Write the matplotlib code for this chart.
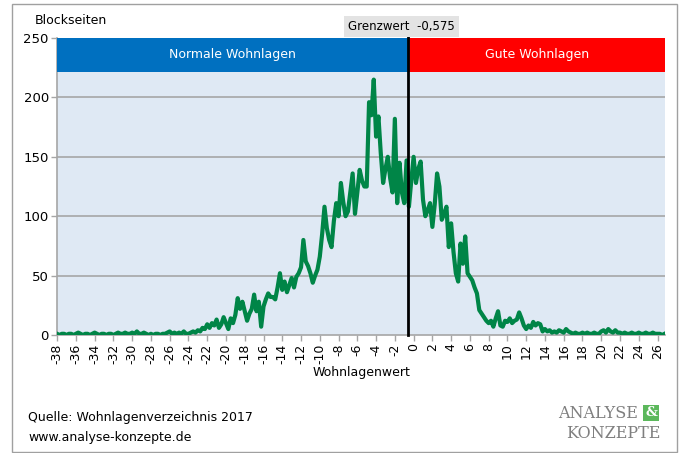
import numpy as np
import matplotlib
matplotlib.use("Agg")
import matplotlib.pyplot as plt
from matplotlib.patches import Rectangle

# Wohnlagenwert in 0.25 steps, one row per integer value
x_start, x_step = -38, 0.25
blockseiten = [
    1, 0, 1, 1,     # -38
    0, 1, 1, 0,     # -37
    1, 2, 1, 0,     # -36
    1, 1, 0, 1,     # -35
    2, 1, 0, 1,     # -34
    1, 0, 1, 1,     # -33
    0, 1, 2, 1,     # -32
    1, 2, 1, 1,     # -31
    2, 1, 3, 1,     # -30
    1, 2, 1, 0,     # -29
    1, 0, 1, 1,     # -28
    0, 1, 1, 2,     # -27
    3, 1, 2, 1,     # -26
    2, 1, 3, 1,     # -25
    1, 2, 3, 2,     # -24
    4, 3, 6, 5,     # -23
    9, 6, 10, 8,    # -22
    13, 6, 9, 15,   # -21
    10, 5, 14, 10,  # -20
    17, 31, 22, 28,  # -19
    20, 12, 18, 22,  # -18
    34, 20, 28, 7,   # -17
    24, 30, 35, 32,  # -16
    32, 30, 40, 52,  # -15
    38, 45, 36, 42,  # -14
    48, 40, 49, 52,  # -13
    57, 80, 62, 58,  # -12
    52, 44, 50, 55,  # -11
    66, 85, 108, 90,   # -10
    80, 74, 96, 111,   # -9
    100, 128, 112, 100,  # -8
    104, 120, 136, 102,  # -7
    120, 139, 130, 125,  # -6
    125, 196, 185, 215,  # -5
    167, 184, 153, 128,  # -4
    140, 150, 132, 120,  # -3
    182, 111, 145, 120,  # -2
    111, 147, 108, 130,  # -1
    150, 128, 140, 146,  # 0
    114, 100, 105, 111,  # 1
    91, 110, 136, 125,   # 2
    97, 102, 108, 74,    # 3
    94, 70, 52, 45,      # 4
    77, 60, 83, 52,      # 5
    49, 46, 40, 35,      # 6
    21, 18, 15, 12,      # 7
    10, 12, 7, 14,       # 8
    20, 8, 7, 12,        # 9
    11, 14, 10, 12,      # 10
    13, 19, 14, 8,       # 11
    5, 8, 6, 11,         # 12
    8, 10, 9, 3,         # 13
    5, 3, 4, 2,          # 14
    3, 2, 4, 3,          # 15
    2, 5, 3, 2,          # 16
    1, 2, 1, 1,          # 17
    2, 1, 2, 1,          # 18
    1, 2, 1, 1,          # 19
    3, 4, 2, 5,          # 20
    3, 2, 4, 2,          # 21
    2, 1, 2, 1,          # 22
    1, 2, 1, 1,          # 23
    2, 1, 1, 2,          # 24
    1, 1, 2, 1,          # 25
    1, 1, 0, 1,          # 26
]
wohnlagenwert = x_start + x_step * np.arange(len(blockseiten))

grenzwert = -0.575
x_ticks = list(range(-38, 27, 2))
y_ticks = [0, 50, 100, 150, 200, 250]
band_labels = ["Normale Wohnlagen", "Gute Wohnlagen"]
source_lines = ["Quelle: Wohnlagenverzeichnis 2017", "www.analyse-konzepte.de"]

fig = plt.figure(figsize=(6.8, 4.53), dpi=100)
ax = fig.add_axes([0.084, 0.2605, 0.894, 0.6555])
ax.set_facecolor("#DFE9F4")

x_min, x_max = -38, 26.8
y_min, y_max = 0, 250
band_low = 221.5

# gridlines
for y in y_ticks[1:-1]:
    ax.axhline(y, color="#A6A6A6", lw=1.2, zorder=1)

ax.plot(wohnlagenwert, blockseiten, color="#008547", lw=3, zorder=3,
        solid_joinstyle="round")

# coloured bands
ax.add_patch(Rectangle((x_min, band_low), grenzwert - x_min, y_max - band_low,
                       color="#0070C0", zorder=4, lw=0))
ax.add_patch(Rectangle((grenzwert, band_low), x_max - grenzwert, y_max - band_low,
                       color="#FF0000", zorder=4, lw=0))
ax.text((x_min + grenzwert) / 2, (band_low + y_max) / 2, band_labels[0],
        color="white", ha="center", va="center", fontsize=9, zorder=5)
ax.text((grenzwert + x_max) / 2, (band_low + y_max) / 2, band_labels[1],
        color="white", ha="center", va="center", fontsize=9, zorder=5)

# threshold line and label
ax.plot([grenzwert, grenzwert], [0, 258], color="black", lw=2, zorder=6,
        clip_on=False)
ax.text(-7.0, 259.5, "Grenzwert  -0,575", fontsize=8.5, ha="left", va="center",
        zorder=7, clip_on=False,
        bbox=dict(boxstyle="square,pad=0.35", fc="#E3E3E3", ec="none"))

ax.set_xlim(x_min, x_max)
ax.set_ylim(y_min, y_max)
ax.set_xticks(x_ticks)
ax.set_xticklabels([str(t) for t in x_ticks], rotation=90, fontsize=9)
ax.set_yticks(y_ticks)
ax.set_yticklabels([str(t) for t in y_ticks], fontsize=9.5)
ax.tick_params(axis="both", color="#A6A6A6", length=4, width=1, pad=2)
for side in ["top", "right"]:
    ax.spines[side].set_visible(False)
for side in ["left", "bottom"]:
    ax.spines[side].set_color("#A6A6A6")
    ax.spines[side].set_linewidth(1.2)

ax.set_xlabel("Wohnlagenwert", fontsize=9, labelpad=2)
fig.text(35 / 680, 1 - 20 / 453, "Blockseiten", fontsize=9, va="center")

fig.text(28 / 680, 1 - 418 / 453, source_lines[0], fontsize=9, va="center")
fig.text(28 / 680, 1 - 437 / 453, source_lines[1], fontsize=9, va="center")

# logo
fig.text(638 / 680, 1 - 413 / 453, "ANALYSE", fontsize=11.5, family="DejaVu Serif",
         color="#7F7F7F", ha="right", va="center")
fig.text(651 / 680, 1 - 413 / 453, "&", fontsize=9.5, family="DejaVu Serif",
         color="white", ha="center", va="center", fontweight="bold",
         bbox=dict(boxstyle="square,pad=0.15", fc="#5CB85C", ec="none"))
fig.text(660 / 680, 1 - 433 / 453, "KONZEPTE", fontsize=11.5, family="DejaVu Serif",
         color="#7F7F7F", ha="right", va="center")

# outer frame
fig.add_artist(Rectangle((12 / 680, 1 / 453), 665 / 680, 448 / 453,
                         transform=fig.transFigure, fill=False,
                         ec="#A0A0A0", lw=1))

fig.savefig("out.png", dpi=100)
